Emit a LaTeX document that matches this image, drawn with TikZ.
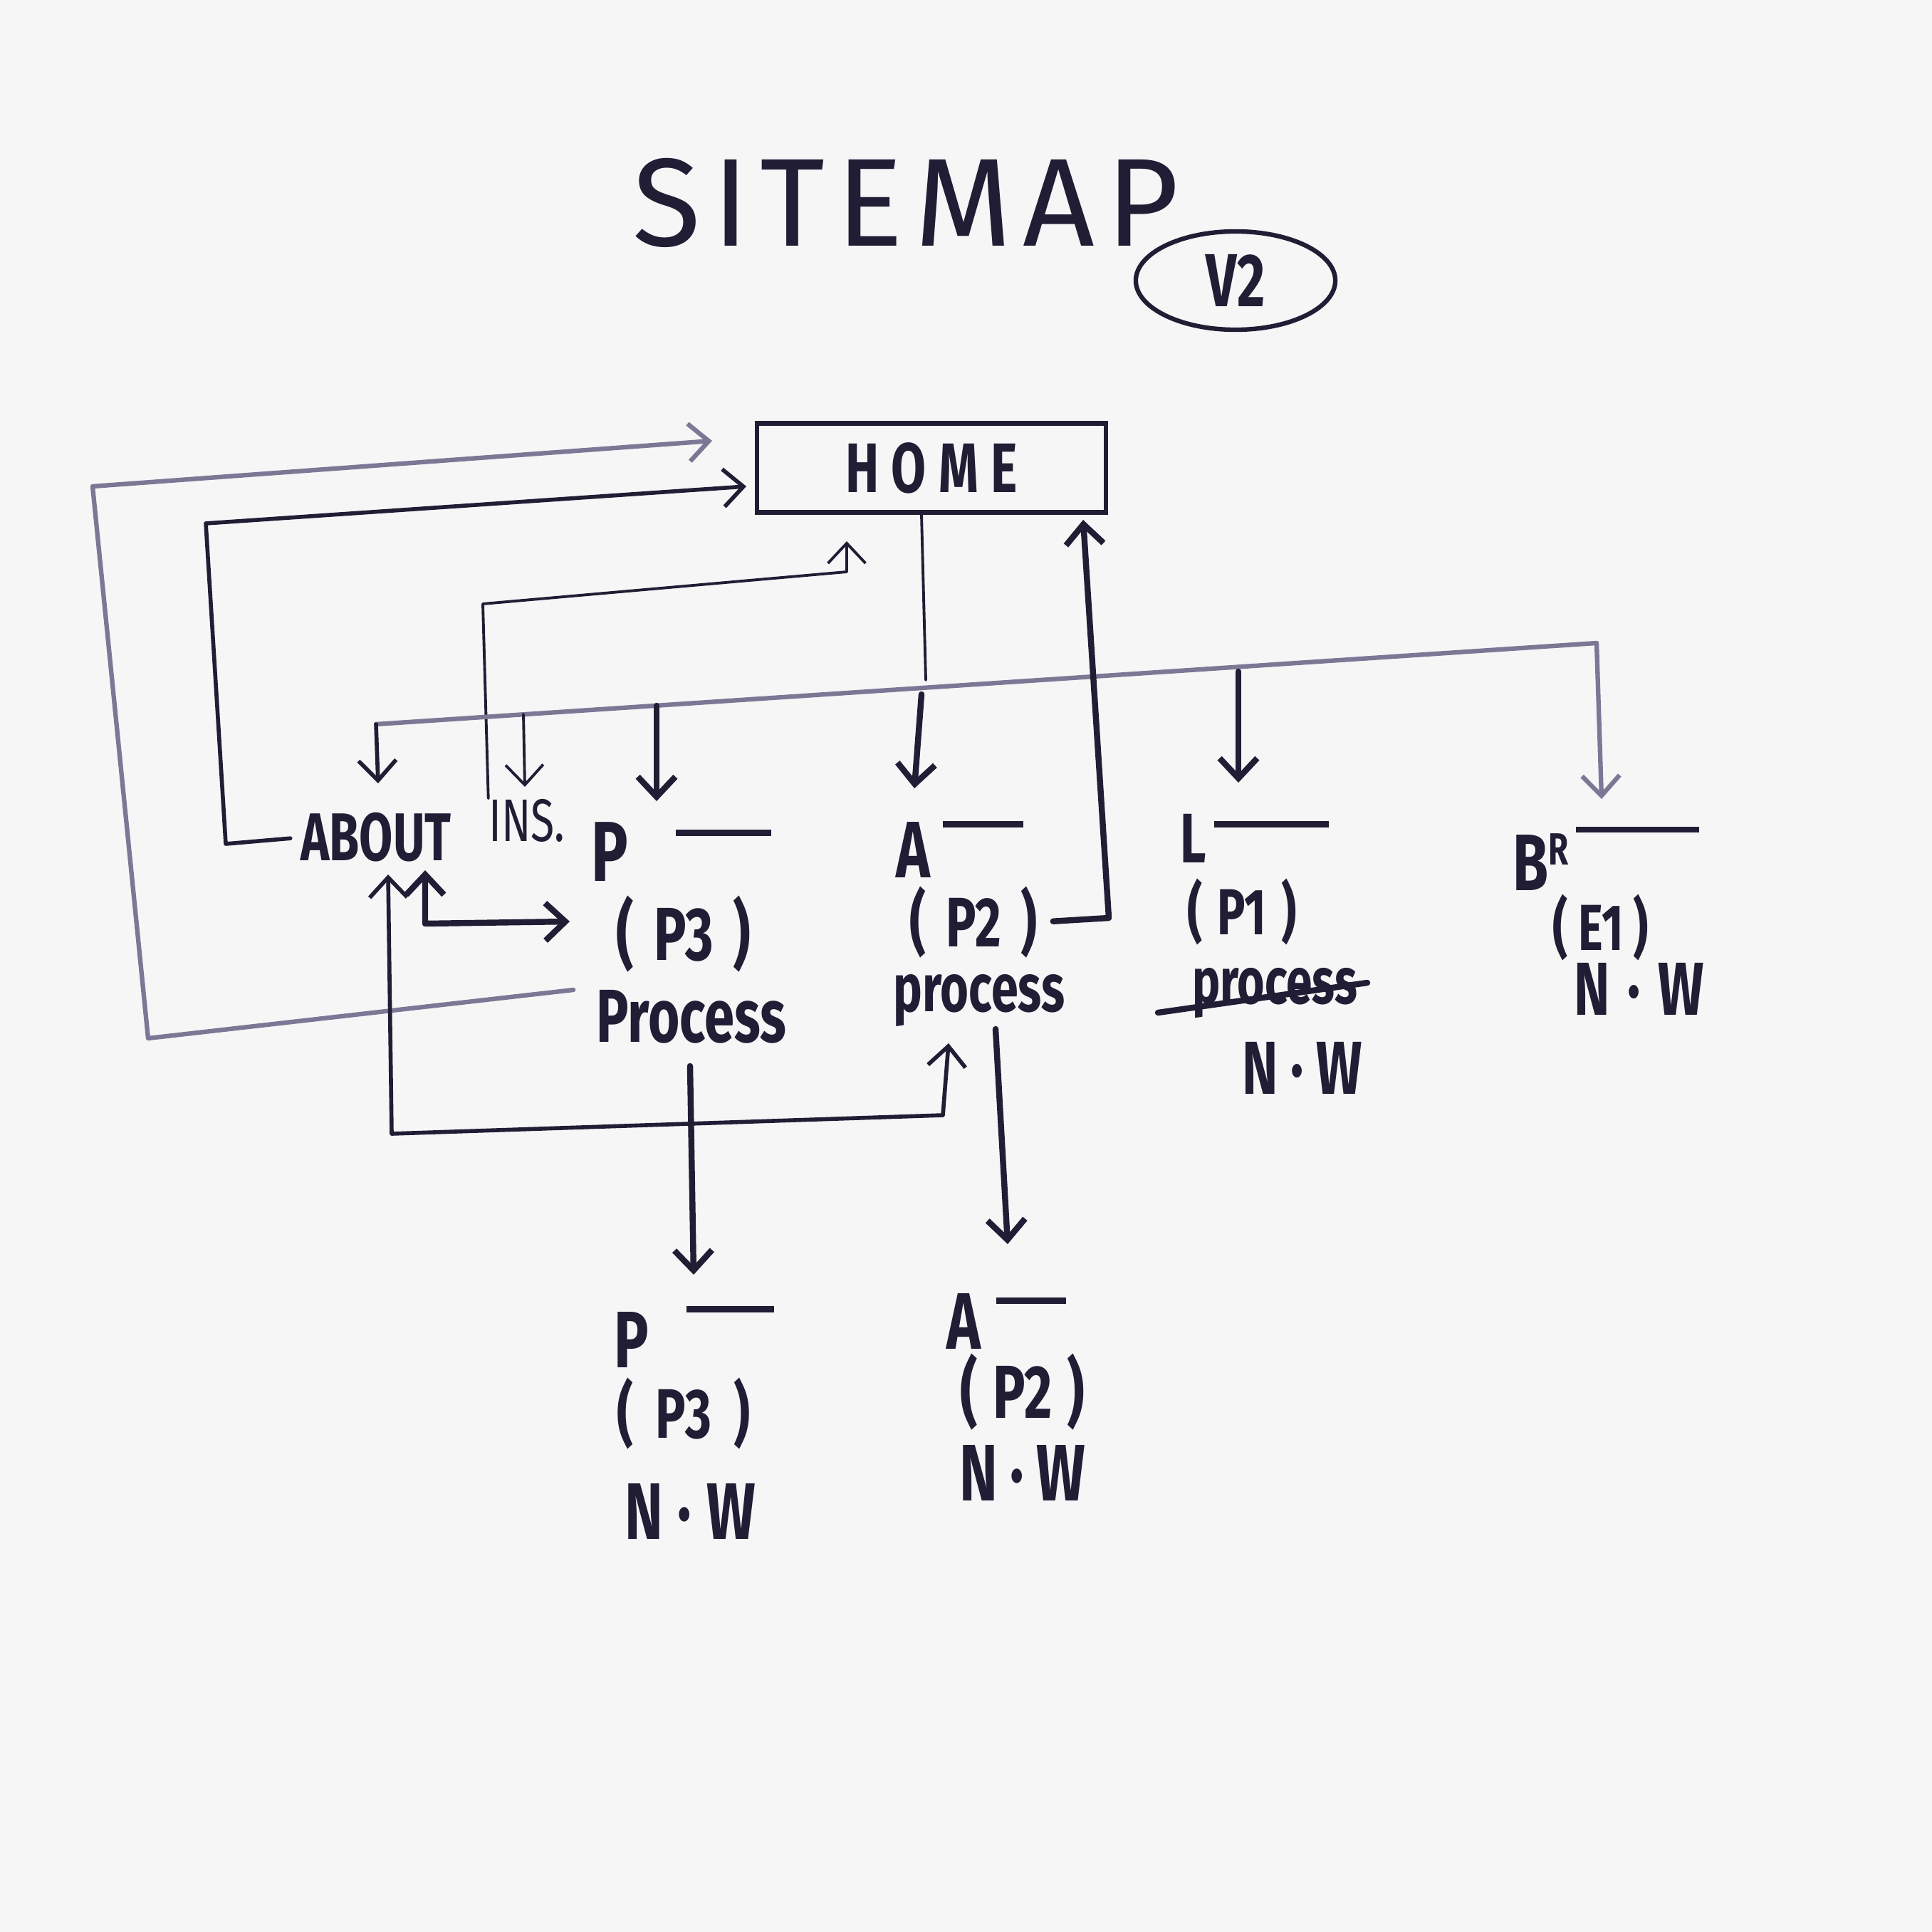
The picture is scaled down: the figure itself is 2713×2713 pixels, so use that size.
\documentclass[tikz,border=0pt]{standalone}
\usepackage{fontspec}
\newfontfamily\hand{Fira Sans}[FakeStretch=0.72]
\newfontfamily\titlef{Fira Sans}[LetterSpace=9]
\usetikzlibrary{arrows.meta,shapes.geometric,calc}
\definecolor{ink}{RGB}{32,29,52}
\definecolor{faint}{RGB}{125,119,150}
\definecolor{paper}{RGB}{246,246,247}
\newcommand{\pr}[2]{(\hspace{#1}#2\hspace{#1})}
\newcommand{\nw}[1]{N\hspace{#1}·\hspace{#1}W}
\begin{document}
\begin{tikzpicture}[x=0.01cm,y=-0.01cm,
  hb/.tip={Straight Barb[length=8pt,width=15pt]},
  pen/.style={draw=ink,line width=2.4pt,line cap=round,line join=round},
  mid/.style={draw=ink,line width=1.6pt,line cap=round,line join=round},
  thinline/.style={draw=ink,line width=1.1pt,line cap=round,line join=round},
  faintline/.style={draw=faint,line width=1.8pt,line cap=round,line join=round},
  lbl/.style={inner sep=0pt,text=ink,font=\hand\bfseries\fontsize{#1}{#1}\selectfont},
  lbll/.style={inner sep=0pt,text=ink,font=\hand\fontsize{#1}{#1}\selectfont}
]
\fill[paper] (0,0) rectangle (2713,2713);
\useasboundingbox (0,0) rectangle (2713,2713);

% title
\node[inner sep=0pt,text=ink,font=\titlef\fontsize{50}{50}\selectfont] (title) at (1272,285) {SITEMAP};
\node[draw=ink,line width=1.8pt,ellipse,minimum width=2.8cm,minimum height=1.38cm,
      text=ink,font=\hand\bfseries\fontsize{30}{30}\selectfont] (v2) at (1735,394) {V2};

% home
\node[draw=ink,line width=1.8pt,minimum width=4.9cm,minimum height=1.25cm,
      text=ink,font=\hand\bfseries\fontsize{28}{28}\selectfont] (home) at (1308,657)
      {H\hspace{5pt}O\hspace{5pt}M\hspace{5pt}E};

% level 1
\node[lbl=27] (about) at (528,1176) {ABOUT};
\node[lbll=24] (ins) at (740,1152) {INS.};
\node[lbl=34,anchor=base west] (pP) at (830,1237) {P\hspace{19pt}\rule[18pt]{38pt}{2.4pt}};
\node[lbl=30] (p3) at (960,1312) {\pr{8pt}{P3}};
\node[lbl=30] (proc) at (971,1428) {Process};

\node[lbl=32,anchor=base west] (aA) at (1258,1232) {A\hspace{5pt}\rule[20pt]{32pt}{2.4pt}};
\node[lbl=28] (p2) at (1367,1295) {\pr{8pt}{P2}};
\node[lbl=27] (aproc) at (1375,1405) {process};

\node[lbl=28,anchor=base west] (lL) at (1657,1211) {L\hspace{3pt}\rule[14pt]{46pt}{2.4pt}};
\node[lbl=26] (p1) at (1744,1280) {\pr{6pt}{P1}};
\node[lbl=26] (strk) at (1790,1395) {process};
\node[lbl=30] (nwL) at (1829,1500) {\nw{5pt}};

\node[lbl=32,anchor=base west] (bB) at (2124,1250) {B\raisebox{10pt}{\fontsize{18}{18}\selectfont R}\hspace{3pt}\rule[23pt]{49pt}{2.4pt}};
\node[lbl=26] (e1) at (2248,1302) {\pr{4pt}{E1}};
\node[lbl=30] (nwB) at (2302,1389) {\nw{7pt}};

% level 2
\node[lbl=32,anchor=base west] (pPb) at (862,1920) {P\hspace{15pt}\rule[22pt]{35pt}{2.4pt}};
\node[lbl=28] (p3b) at (960,1985) {\pr{9pt}{P3}};
\node[lbl=32] (nwP) at (969,2122) {\nw{6pt}};
\node[lbl=32,anchor=base west] (aAb) at (1329,1894) {A\hspace{6pt}\rule[18pt]{28pt}{2.4pt}};
\node[lbl=30] (p2b) at (1436,1955) {\pr{6pt}{P2}};
\node[lbl=32] (nwA) at (1436,2068) {\nw{5pt}};

% arrow ends
\coordinate (h1) at (1000,619);
\coordinate (h2) at (1048,683);
\coordinate (h3) at (1189,760);
\coordinate (h4) at (1521,730);
\coordinate (dL) at (528,1017);
\coordinate (dR) at (2242,903);

% outer faint loop: Process -> HOME
\draw[faintline,-hb] ($(proc.west)+(-32,-38)$) -- (208,1458) -- (130,683) -- (h1);
% ABOUT -> HOME
\draw[mid,-hb,shorten <=4pt] (about.west) -- (317,1185) -- (289,735) -- (h2);
% INS -> HOME
\draw[thinline,-hb] (ins.north west) -- (678,848) -- (1189,803) -- (h3);
% HOME -> distribution
\draw[thinline] ($(home.south)+(-14,0)$) -- (1300,955);
\draw[faintline] (dL) -- (dR);
\draw[mid,-hb] (dL) -- (531,1100);
\draw[thinline,-hb] (735,1003) -- (737,1105);
\draw[pen,-hb] (922,991) -- (922,1125);
\draw[pen,-hb] (1294,975) -- (1284,1107);
\draw[pen,-hb] (1739,943) -- (1739,1099);
\draw[faintline,-hb] (dR) -- (2249,1122);
% (P2) -> HOME
\draw[pen,-hb,shorten <=6pt] (p2.east) -- (1557,1289) -- (h4);
% ABOUT <-> (P3)
\draw[pen,hb-hb] (597,1222) -- (597,1297) -- (800,1294);
% ABOUT <-> A process
\draw[mid,hb-hb] (545,1228) -- (550,1592) -- (1324,1566) -- (1332,1465);
% process -> level 2
\draw[pen,-hb] (969,1497) -- (974,1790);
\draw[pen,-hb] (1398,1445) -- (1415,1747);
% strike
\draw[pen] (1626,1422) -- (1920,1380);
\end{tikzpicture}
\end{document}
